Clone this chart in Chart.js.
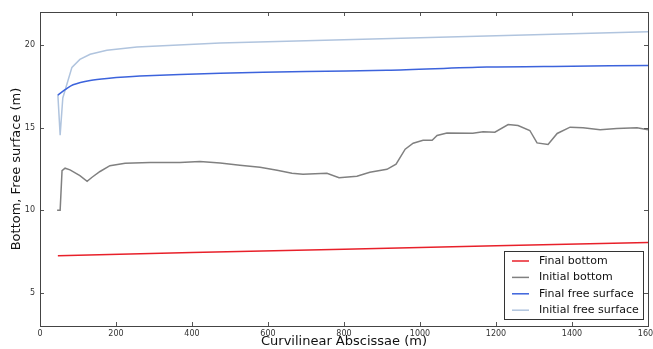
<!DOCTYPE html>
<html>
<head>
<meta charset="utf-8">
<script src="https://cdn.jsdelivr.net/npm/chart.js@4/dist/chart.umd.min.js"></script>
<style>
  html, body { margin: 0; padding: 0; background: #fff; }
  #wrap { width: 653px; height: 349px; }
</style>
</head>
<body>
<div id="wrap"><canvas id="myChart" width="653" height="349"></canvas></div>
<script>
// values (x in m, y in m)
var final_bottom_x = [47, 400, 800, 1200, 1600];
var final_bottom_y = [7.25, 7.45, 7.65, 7.85, 8.05];

var initial_bottom_x = [45, 53, 58, 66, 79, 105, 124, 137, 158, 184, 224, 290, 368, 421, 474, 526, 579, 624, 663, 692, 755, 787, 834, 868, 913, 937, 961, 982, 1008, 1032, 1045, 1071, 1139, 1166, 1197, 1232, 1258, 1289, 1308, 1337, 1361, 1395, 1429, 1474, 1518, 1571, 1600];
var initial_bottom_y = [10.0, 10.0, 12.4, 12.55, 12.45, 12.1, 11.75, 12.0, 12.35, 12.7, 12.85, 12.9, 12.9, 12.95, 12.87, 12.73, 12.6, 12.42, 12.24, 12.18, 12.24, 11.97, 12.06, 12.3, 12.48, 12.79, 13.7, 14.06, 14.24, 14.24, 14.53, 14.68, 14.67, 14.75, 14.73, 15.19, 15.13, 14.83, 14.08, 13.98, 14.65, 15.03, 14.99, 14.87, 14.95, 14.99, 14.87];

var final_surface_x = [47, 66, 87, 132, 176, 263, 474, 700, 913, 1176, 1400, 1600];
var final_surface_y = [16.97, 17.3, 17.6, 17.86, 17.98, 18.12, 18.3, 18.4, 18.47, 18.67, 18.72, 18.77];

var initial_surface_x = [47, 53, 60, 84, 105, 132, 176, 255, 474, 1000, 1350, 1600];
var initial_surface_y = [17.0, 14.55, 16.8, 18.65, 19.13, 19.44, 19.68, 19.88, 20.12, 20.44, 20.65, 20.8];

var x_ticks = [0, 200, 400, 600, 800, 1000, 1200, 1400, 1600];
var y_ticks = [5, 10, 15, 20];

function pts(xs, ys) {
    let out = [];
    for (let i in xs) {
        out.push({x: xs[i], y: ys[i]});
    }
    return out;
}

var frame_plugin = {
    id: 'frame',
    afterDraw: function(chart) {
        var ctx = chart.ctx;
        var a = chart.chartArea;
        ctx.save();
        // inward ticks like matplotlib
        ctx.strokeStyle = '#555';
        ctx.lineWidth = 1;
        chart.scales.x.ticks.forEach(function(t) {
            var px = Math.round(chart.scales.x.getPixelForValue(t.value)) + 0.5;
            ctx.beginPath();
            ctx.moveTo(px, a.bottom); ctx.lineTo(px, a.bottom - 4);
            ctx.moveTo(px, a.top); ctx.lineTo(px, a.top + 4);
            ctx.stroke();
        });
        chart.scales.y.ticks.forEach(function(t) {
            var py = Math.round(chart.scales.y.getPixelForValue(t.value)) + 0.5;
            ctx.beginPath();
            ctx.moveTo(a.left, py); ctx.lineTo(a.left + 4, py);
            ctx.moveTo(a.right, py); ctx.lineTo(a.right - 4, py);
            ctx.stroke();
        });
        ctx.strokeStyle = '#444';
        ctx.strokeRect(Math.round(a.left) + 0.5, Math.round(a.top) + 0.5, Math.round(a.right - a.left), Math.round(a.bottom - a.top));

        // legend box, lower right
        var bx = a.right - 144, by = a.bottom - 75, bw = 139, bh = 68;
        ctx.fillStyle = '#fff';
        ctx.fillRect(bx, by, bw, bh);
        ctx.strokeStyle = '#333';
        ctx.strokeRect(bx + 0.5, by + 0.5, bw, bh);
        ctx.font = '11px "DejaVu Sans"';
        ctx.textBaseline = 'middle';
        chart.data.datasets.forEach(function(ds, i) {
            var ly = by + 10 + i * 16.4;
            ctx.strokeStyle = ds.borderColor;
            ctx.lineWidth = 1.5;
            ctx.beginPath();
            ctx.moveTo(bx + 8, ly); ctx.lineTo(bx + 25, ly);
            ctx.stroke();
            ctx.fillStyle = '#111';
            ctx.fillText(ds.label, bx + 35, ly);
        });
        ctx.restore();
    }
};

var ctx = document.getElementById('myChart').getContext('2d');
var myChart = new Chart(ctx, {
    type: 'line',
    data: {
        datasets: [{
            label: 'Final bottom',
            data: pts(final_bottom_x, final_bottom_y),
            borderColor: '#e8202a',
            borderWidth: 1.5,
            pointRadius: 0,
            fill: false,
            tension: 0
        }, {
            label: 'Initial bottom',
            data: pts(initial_bottom_x, initial_bottom_y),
            borderColor: '#808080',
            borderWidth: 1.5,
            pointRadius: 0,
            fill: false,
            tension: 0
        }, {
            label: 'Final free surface',
            data: pts(final_surface_x, final_surface_y),
            borderColor: '#3c63dc',
            borderWidth: 1.5,
            pointRadius: 0,
            fill: false,
            tension: 0.3
        }, {
            label: 'Initial free surface',
            data: pts(initial_surface_x, initial_surface_y),
            borderColor: '#b0c4de',
            borderWidth: 1.5,
            pointRadius: 0,
            fill: false,
            tension: 0
        }]
    },
    options: {
        responsive: false,
        animation: false,
        layout: { padding: { top: 12, right: 5, left: 0, bottom: 0 } },
        plugins: {
            legend: { display: false },
            tooltip: { enabled: false }
        },
        scales: {
            x: {
                type: 'linear',
                min: 0,
                max: 1600,
                grid: { display: false, drawTicks: false },
                border: { display: false },
                afterBuildTicks: function(s) { s.ticks = x_ticks.map(v => ({value: v})); },
                afterFit: function(s) { s.height = 23; s.paddingRight = 0; s.paddingLeft = 0; },
                ticks: {
                    color: '#333',
                    font: { size: 8, family: 'DejaVu Sans' },
                    padding: 3,
                    maxRotation: 0,
                    callback: function(v) { return String(v); }
                },
                title: {
                    display: true,
                    text: 'Curvilinear Abscissae (m)',
                    color: '#111',
                    font: { size: 13, family: 'DejaVu Sans' },
                    padding: { top: 0, bottom: 0 }
                }
            },
            y: {
                min: 3,
                max: 22,
                grid: { display: false, drawTicks: false },
                border: { display: false },
                afterBuildTicks: function(s) { s.ticks = y_ticks.map(v => ({value: v})); },
                afterFit: function(s) { s.width = 40; s.paddingTop = 0; s.paddingBottom = 0; },
                ticks: { color: '#333', font: { size: 8, family: 'DejaVu Sans' }, padding: 5 },
                title: {
                    display: true,
                    text: 'Bottom, Free surface (m)',
                    color: '#111',
                    font: { size: 13, family: 'DejaVu Sans' },
                    padding: { top: 9, bottom: 0 }
                }
            }
        }
    },
    plugins: [frame_plugin]
});
</script>
</body>
</html>
